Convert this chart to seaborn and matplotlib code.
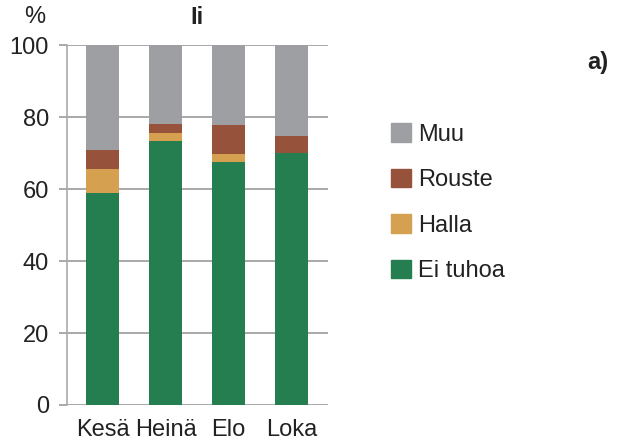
import pandas as pd
import seaborn as sns
import matplotlib.pyplot as plt
from matplotlib.patches import Patch

# data
months = ['Kesä', 'Heinä', 'Elo', 'Loka']
ei_tuhoa = [59.0, 73.5, 67.5, 70.0]
halla = [6.5, 2.0, 2.2, 0.0]
rouste = [5.5, 2.5, 8.0, 4.8]
muu = [29.0, 22.0, 22.3, 25.2]

colors = {'Muu': '#9d9fa2', 'Rouste': '#97523c', 'Halla': '#d5a050', 'Ei tuhoa': '#257e50'}

df = pd.DataFrame({'kk': months, 'Ei tuhoa': ei_tuhoa, 'Halla': halla,
                   'Rouste': rouste, 'Muu': muu})
# cumulative tops, drawn from tallest to shortest
df['c_ei'] = df['Ei tuhoa']
df['c_halla'] = df['c_ei'] + df['Halla']
df['c_rouste'] = df['c_halla'] + df['Rouste']
df['c_muu'] = df['c_rouste'] + df['Muu']

sns.set_style('white')
plt.rcParams['font.family'] = ['Liberation Sans', 'DejaVu Sans']
fs = 17

fig = plt.figure(figsize=(6.23, 4.43), dpi=100)
ax = fig.add_axes([0.1075, 0.0858, 0.419, 0.8122])

for col, name in [('c_muu', 'Muu'), ('c_rouste', 'Rouste'),
                  ('c_halla', 'Halla'), ('c_ei', 'Ei tuhoa')]:
    sns.barplot(data=df, x='kk', y=col, color=colors[name], width=0.52,
                saturation=1, linewidth=0, ax=ax, zorder=3)

ax.set_ylim(0, 100)
ax.set_xlim(-0.57, 3.58)
ax.set_yticks([0, 20, 40, 60, 80, 100])
ax.yaxis.grid(True, color='#9a9a9a', linewidth=1.2, zorder=0)
ax.set_axisbelow(True)
ax.set_xlabel('')
ax.set_ylabel('')
for s in ['top', 'right', 'bottom']:
    ax.spines[s].set_visible(False)
ax.spines['left'].set_color('#aaaaaa')
ax.spines['left'].set_linewidth(1.2)
ax.tick_params(axis='y', length=6, width=1.2, color='#9a9a9a', labelsize=fs,
               pad=7, left=True, direction='out', labelcolor='#222222')
ax.tick_params(axis='x', length=0, labelsize=fs, pad=10, labelcolor='#222222')

fig.text(197 / 623, 1 - 17 / 443, 'Ii', fontsize=fs, fontweight='bold',
         ha='center', va='center', color='#222222')
fig.text(35 / 623, 1 - 17 / 443, '%', fontsize=fs, ha='center', va='center',
         color='#222222')
fig.text(598 / 623, 1 - 62 / 443, 'a)', fontsize=fs, fontweight='bold',
         ha='center', va='center', color='#222222')

handles = [Patch(color=colors[n], label=n) for n in ['Muu', 'Rouste', 'Halla', 'Ei tuhoa']]
fig.legend(handles=handles, loc='upper left', bbox_to_anchor=(0.594, 0.77),
           frameon=False, fontsize=fs, handlelength=0.85, handleheight=0.85,
           labelspacing=0.97, handletextpad=0.3, labelcolor='#222222')

fig.savefig('out.png', dpi=100)
